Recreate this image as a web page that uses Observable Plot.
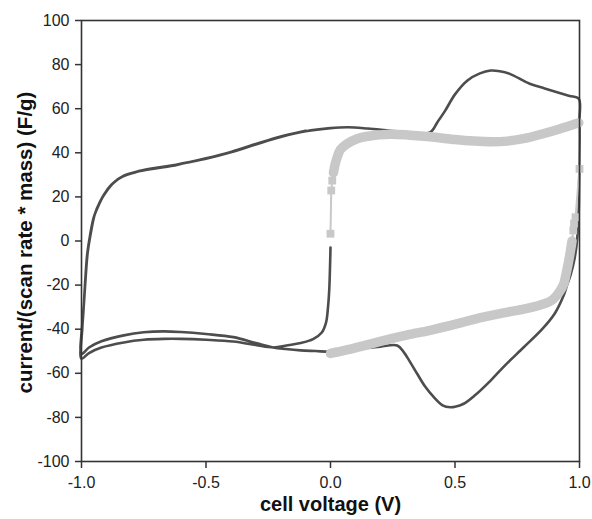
<!DOCTYPE html>
<html><head><meta charset="utf-8">
<script src="https://cdn.jsdelivr.net/npm/d3@7"></script>
<script src="https://cdn.jsdelivr.net/npm/@observablehq/plot@0.6"></script>
<style>html,body{margin:0;padding:0;background:#fff;}</style>
</head><body><div id="chart"></div>
<script>
// ---- tick labels & titles ----
const xTicks = [-1, -0.5, 0, 0.5, 1];
const yTicks = [-100, -80, -60, -40, -20, 0, 20, 40, 60, 80, 100];
const xTitle = "cell voltage (V)";
const yTitle = "current/(scan rate * mass) (F/g)";

// ---- dark series (CV of the first electrode, in scan order) ----
const darkX = [0.000, -0.002, -0.005, -0.010, -0.018, -0.035, -0.070, -0.120, -0.170, -0.230,
  -0.300, -0.390, -0.500, -0.600, -0.670, -0.750, -0.830, -0.920, -0.970, -1.000,
  -0.997, -0.992, -0.985, -0.977, -0.965, -0.950, -0.930, -0.910, -0.880, -0.840, -0.780, -0.710, -0.640, -0.580,
  -0.500, -0.400, -0.300, -0.200, -0.100, 0.000, 0.070, 0.150, 0.240, 0.320, 0.400,
  0.430, 0.460, 0.500, 0.550, 0.600, 0.643, 0.680, 0.720, 0.800, 0.860, 0.910, 0.960, 0.997,
  1.000, 1.000, 0.998, 0.997, 0.990, 0.980, 0.965, 0.950, 0.937, 0.900, 0.850, 0.776, 0.700, 0.643,
  0.580, 0.535, 0.500, 0.482, 0.450, 0.415, 0.380, 0.348, 0.315, 0.294, 0.268,
  0.200, 0.120, 0.050, 0.000, -0.060, -0.120, -0.180, -0.230, -0.300, -0.390, -0.500, -0.600, -0.670,
  -0.750, -0.830, -0.920, -0.970, -1.000,
  -0.997, -0.990, -0.983, -0.975, -0.962, -0.947, -0.925, -0.900, -0.870, -0.830, -0.770, -0.700, -0.620,
  -0.500, -0.400, -0.300, -0.200, -0.100];
const darkY = [-3.0, -12.0, -22.0, -30.0, -37.0, -41.5, -44.5, -46.3, -47.3, -48.3,
  -47.2, -45.6, -44.8, -44.4, -44.4, -44.8, -46.0, -48.3, -50.8, -53.4,
  -40.0, -31.5, -18.0, -6.0, 3.0, 11.0, 16.5, 21.0, 25.5, 29.0, 31.3, 32.8, 34.0, 35.5,
  37.3, 40.2, 43.8, 47.2, 49.8, 51.2, 51.6, 51.0, 50.0, 49.2, 49.3,
  54.0, 59.0, 66.5, 72.8, 76.0, 77.3, 77.0, 75.8, 71.3, 69.2, 67.5, 65.8, 64.5,
  55.0, 40.0, 20.0, 13.8, 0.0, -8.0, -15.0, -20.0, -24.5, -33.0, -40.0, -48.2, -56.5, -63.3,
  -70.0, -73.8, -75.2, -75.4, -74.5, -70.8, -66.0, -60.2, -54.0, -50.4, -47.4,
  -47.9, -48.8, -49.6, -50.2, -49.9, -49.6, -49.0, -48.3, -46.3, -43.6, -42.2, -41.3, -41.0,
  -41.4, -42.8, -45.5, -48.3, -51.2,
  -38.0, -28.0, -16.0, -5.0, 4.0, 12.0, 18.0, 22.5, 26.5, 29.6, 31.7, 33.2, 34.6,
  37.5, 40.4, 44.0, 47.4, 50.0];

// ---- light series (CV of the second electrode) ----
const grayRiseX = [0.000, 0.003, 0.007];
const grayRiseY = [3.3, 22.9, 27.4];
const grayUpperX = [0.012, 0.018, 0.027, 0.040, 0.067, 0.107, 0.150, 0.240, 0.320, 0.400, 0.500, 0.576, 0.650, 0.710, 0.780, 0.843, 0.920, 0.997];
const grayUpperY = [31.0, 34.5, 38.0, 41.5, 44.1, 46.4, 47.5, 48.4, 48.0, 47.3, 46.0, 45.3, 45.0, 45.3, 46.5, 48.3, 50.8, 53.6];
const grayDropX = [1.000, 0.984, 0.978, 0.975];
const grayDropY = [32.7, 10.8, 7.9, 4.8];
const grayLowerX = [0.970, 0.964, 0.955, 0.945, 0.937, 0.920, 0.900, 0.880, 0.843, 0.780, 0.700, 0.576, 0.510, 0.400, 0.310, 0.240, 0.150, 0.070, 0.000];
const grayLowerY = [0.0, -4.3, -10.0, -15.5, -19.4, -23.0, -25.8, -27.5, -29.0, -30.8, -32.5, -35.5, -37.5, -40.5, -42.6, -44.4, -47.0, -49.3, -51.0];

const pts = (xs, ys) => xs.map((x, i) => ({x, y: ys[i]}));
const dark = pts(darkX, darkY);
const grayRise = pts(grayRiseX, grayRiseY);
const grayUpper = pts(grayUpperX, grayUpperY);
const grayDrop = pts(grayDropX, grayDropY);
const grayLower = pts(grayLowerX, grayLowerY);
const grayAll = [...grayRise, ...grayUpper, ...grayDrop, ...grayLower];

const DARK = "#4d4d4d";
const LIGHT = "#c8c8c8";

const chart = Plot.plot({
  width: 592,
  height: 519,
  marginLeft: 81,
  marginRight: 13,
  marginTop: 20,
  marginBottom: 58,
  style: {fontFamily: "'Liberation Sans', Arial, Helvetica, sans-serif", fontSize: "16px", background: "#fff", color: "#222", overflow: "visible"},
  x: {domain: [-1, 1]},
  y: {domain: [-100, 100]},
  marks: [
    Plot.line(dark, {x: "x", y: "y", stroke: DARK, strokeWidth: 2.6, curve: "catmull-rom"}),
    Plot.line(grayAll, {x: "x", y: "y", stroke: LIGHT, strokeWidth: 2}),
    Plot.line(grayUpper, {x: "x", y: "y", stroke: LIGHT, strokeWidth: 9.5, curve: "catmull-rom"}),
    Plot.line(grayLower, {x: "x", y: "y", stroke: LIGHT, strokeWidth: 9.5, curve: "catmull-rom"}),
    Plot.dot([...grayRise, ...grayDrop], {x: "x", y: "y", symbol: "square", r: 4.4, fill: LIGHT, stroke: "none"}),
    Plot.frame({stroke: "#333", strokeWidth: 1.6}),
    Plot.axisX({ticks: xTicks, tickFormat: d => d.toFixed(1), tickSize: 7, tickPadding: 8, fontSize: 16, label: null, stroke: "#333", strokeWidth: 1.5}),
    Plot.axisY({ticks: yTicks, tickFormat: d => String(d), tickSize: 6, tickPadding: 6, fontSize: 16, label: null, stroke: "#333", strokeWidth: 1.5}),
    Plot.text([xTitle], {text: d => d, frameAnchor: "bottom", textAnchor: "middle", dy: 49, fontSize: 20, fontWeight: "bold", fill: "#111"}),
    Plot.text([yTitle], {text: d => d, frameAnchor: "left", textAnchor: "middle", rotate: -90, dx: -56, dy: 1.5, fontSize: 20.5, fontWeight: "bold", fill: "#111"})
  ]
});
document.getElementById("chart").appendChild(chart);
</script>
</body></html>
